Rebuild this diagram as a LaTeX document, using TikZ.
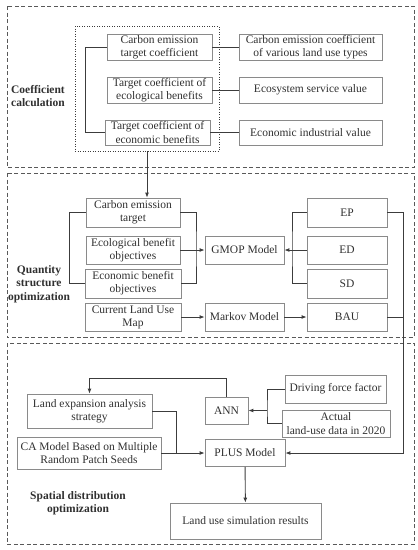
\documentclass[tikz,border=0pt]{standalone}
\usepackage{fontspec}
\setmainfont{Liberation Serif}
\usetikzlibrary{arrows.meta}
\definecolor{boxgray}{HTML}{8A8A8A}
\definecolor{linegray}{HTML}{3C3C3C}
\definecolor{txtgray}{HTML}{303030}
\tikzset{
	box/.style={draw=boxgray,line width=0.8pt,align=center,inner sep=1pt,text=txtgray,
		font=\fontsize{11.5}{13.2}\selectfont},
	tag/.style={align=center,text=txtgray,font=\fontsize{11.5}{13.5}\selectfont\bfseries},
	conn/.style={draw=linegray,line width=0.9pt},
	arr/.style={conn,-{Latex[length=5pt,width=4pt]}},
	frame/.style={draw=linegray!85,line width=0.8pt,dash pattern=on 4pt off 2.5pt},
}
\begin{document}
\begin{tikzpicture}[x=1pt,y=-1pt]
	\useasboundingbox (0,0) rectangle (418,550);
	% Frames
	\draw[frame] (7,6) rectangle (414,167);
	\draw[frame] (7,173) rectangle (414,337);
	\draw[frame] (7,343) rectangle (414,544);
	\draw[draw=linegray,line width=0.8pt,dash pattern=on 1pt off 1.5pt] (75,26) rectangle (219,151);
	% Coefficient calculation
	\node[tag] (lab1) at (38,96) {Coefficient\\calculation};
	\node[box,minimum width=105pt,minimum height=26pt] (cet) at (159.5,47) {Carbon emission\\target coefficient};
	\node[box,minimum width=143pt,minimum height=26pt] (cec) at (310.5,47) {Carbon emission coefficient\\of various land use types};
	\node[box,minimum width=105pt,minimum height=26pt] (tce) at (159.5,90) {Target coefficient of\\ecological benefits};
	\node[box,minimum width=143pt,minimum height=26pt] (esv) at (310.5,90) {Ecosystem service value};
	\node[box,minimum width=105pt,minimum height=25pt] (tcn) at (157.5,132.5) {Target coefficient of\\economic benefits};
	\node[box,minimum width=143pt,minimum height=25pt] (eiv) at (310.5,132.5) {Economic industrial value};
	\draw[conn] (cet.west) -- ++(-21,0) |- (tcn.west);
	\draw[conn] (cet) -- (cec);
	\draw[conn] (tce) -- (esv);
	\draw[conn] (tcn) -- (eiv);
	% Quantity structure optimization
	\node[tag] (lab2) at (39,284) {Quantity\\structure\\optimization};
	\node[box,minimum width=94pt,minimum height=29pt] (cft) at (133,212.5) {Carbon emission\\target};
	\node[box,minimum width=94pt,minimum height=28pt] (ebo) at (133,250) {Ecological benefit\\objectives};
	\node[box,minimum width=96pt,minimum height=29pt] (nbo) at (133,283.5) {Economic benefit\\objectives};
	\node[box,minimum width=96pt,minimum height=28pt] (clu) at (133,317) {Current Land Use\\Map};
	\node[box,minimum width=79pt,minimum height=28pt] (gmop) at (244.5,250) {GMOP Model};
	\node[box,minimum width=79pt,minimum height=28pt] (markov) at (244.5,317) {Markov Model};
	\node[box,minimum width=80pt,minimum height=29pt] (ep) at (347,212.5) {EP};
	\node[box,minimum width=80pt,minimum height=28pt] (ed) at (347,250) {ED};
	\node[box,minimum width=80pt,minimum height=29pt] (sd) at (347,283.5) {SD};
	\node[box,minimum width=80pt,minimum height=28pt] (bau) at (347,317) {BAU};
	\coordinate (dotb) at (147,151);
	\coordinate (qj) at (196,250);
	\coordinate (sj) at (292,250);
	\coordinate (rj) at (403,453);
	\draw[arr] (dotb) -- (dotb |- cft.north);
	\draw[conn] (cft.west) -- ++(-16,0) |- (nbo.west);
	\draw[conn] (cft.east) -| (qj) |- (nbo.east);
	\draw[arr] (ebo) -- (gmop);
	\draw[conn] (ep.west) -| (sj) |- (sd.west);
	\draw[arr] (ed) -- (gmop);
	\draw[arr] (clu) -- (markov);
	\draw[arr] (markov) -- (bau);
	\draw[conn] (bau.east) -- (bau.east -| rj);
	% Spatial distribution optimization
	\node[tag] (lab3) at (78,503) {Spatial distribution\\optimization};
	\node[box,minimum width=125pt,minimum height=34pt] (lea) at (89.5,411) {Land expansion analysis\\strategy};
	\node[box,minimum width=43pt,minimum height=27pt] (ann) at (226.5,410.5) {ANN};
	\node[box,minimum width=101pt,minimum height=28pt] (dff) at (335.5,389) {Driving force factor};
	\node[box,minimum width=108pt,minimum height=27pt] (act) at (336,423.5) {Actual\\land-use data in 2020};
	\node[box,minimum width=144pt,minimum height=32pt] (ca) at (89,453) {CA Model Based on Multiple\\Random Patch Seeds};
	\node[box,minimum width=80pt,minimum height=27pt] (plus) at (245,453) {PLUS Model};
	\node[box,minimum width=151pt,minimum height=36pt] (res) at (245.5,521) {Land use simulation results};
	\coordinate (aj) at (267,410.5);
	\coordinate (lj) at (176,453);
	\draw[arr] (ep.east) -| (rj) -- (plus.east);
	\draw[arr] (ann.north) -- ++(0,-18) -| (lea.north);
	\draw[conn] (dff.west) -| (aj) |- (act.west);
	\draw[arr] (aj) -- (ann.east);
	\draw[conn] (lea.east) -| (lj);
	\draw[arr] (ca.east) -- (plus.west);
	\draw[arr] (plus) -- (res);
\end{tikzpicture}
\end{document}
